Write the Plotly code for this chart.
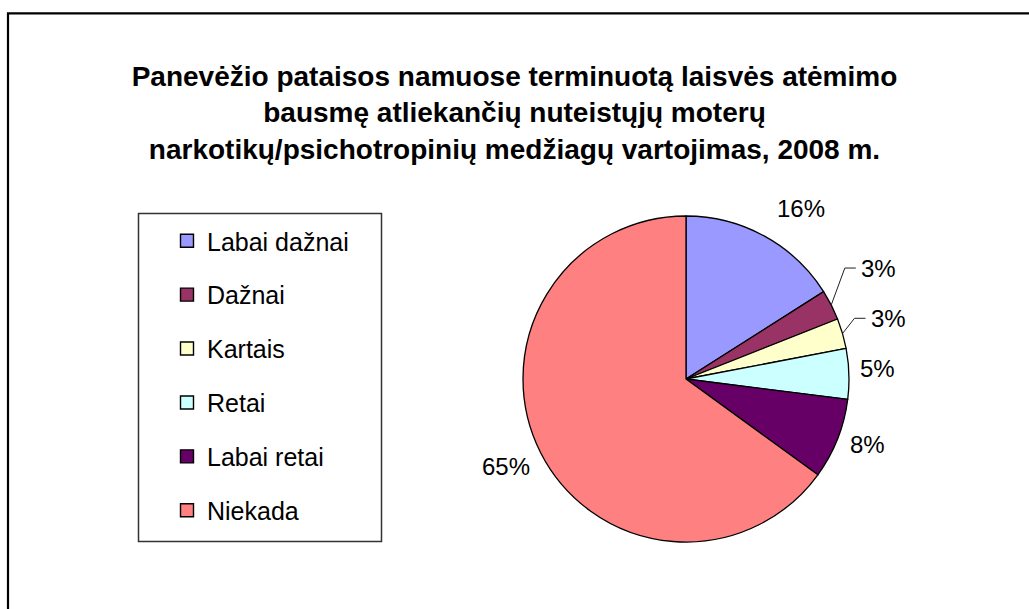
import math
import plotly.graph_objects as go

# --- data -------------------------------------------------------------
categories = ["Labai dažnai", "Dažnai", "Kartais", "Retai", "Labai retai", "Niekada"]
shares = [16, 3, 3, 5, 8, 65]          # percent of respondents
colors = ["#9999FF", "#993366", "#FFFFCC", "#CCFFFF", "#660066", "#FF8080"]
title_lines = [
    "Panevėžio pataisos namuose terminuotą laisvės atėmimo",
    "bausmę atliekančių nuteistųjų moterų",
    "narkotikų/psichotropinių medžiagų vartojimas, 2008 m.",
]

# --- layout constants (pixels) ----------------------------------------
W, H = 1029, 609
PIE_CX, PIE_CY, PIE_R = 686, 379, 163
FONT = "Liberation Sans, Arial, sans-serif"

# label placement: distance of the label's inner edge (in radii) and a small
# angular tweak from the slice's mid angle; some labels get a leader line
label_dist = [1.18, 1.26, 1.18, 1.06, 1.07, 1.085]
label_turn = [-1.3, -5.7, -2.2, -1.8, 0.3, -2.5]
label_leader = [False, True, True, False, False, False]


def px(x):
    return x / W


def py(y):
    return 1 - y / H


def polar(angle_deg, dist):
    a = math.radians(angle_deg)
    return PIE_CX + dist * math.sin(a), PIE_CY - dist * math.cos(a)


fig = go.Figure()

fig.add_trace(go.Pie(
    labels=categories,
    values=shares,
    sort=False,
    direction="clockwise",
    rotation=0,
    marker=dict(colors=colors, line=dict(color="black", width=1.3)),
    textinfo="none",
    hoverinfo="label+value",
    showlegend=False,
    domain=dict(
        x=[px(PIE_CX - PIE_R), px(PIE_CX + PIE_R)],
        y=[py(PIE_CY + PIE_R), py(PIE_CY - PIE_R)],
    ),
))

# legend entries, one group each so they can be spaced apart
for name, col in zip(categories, colors):
    fig.add_trace(go.Scatter(
        x=[None], y=[None], mode="markers", name=name, legendgroup=name,
        marker=dict(symbol="square", size=13, color=col,
                    line=dict(color="black", width=1.4)),
        hoverinfo="skip",
    ))

annotations = []
shapes = []

# percentage labels around the pie
total = sum(shares)
cum = 0.0
for v, d, t, lead in zip(shares, label_dist, label_turn, label_leader):
    mid = (cum + v / 2) / total * 360
    cum += v
    ax, ay = polar(mid + t, PIE_R * d)
    right_side = math.sin(math.radians(mid)) >= 0
    annotations.append(dict(
        x=px(ax), y=py(ay), xref="paper", yref="paper",
        text=f"{v}%", showarrow=False,
        xanchor="left" if right_side else "right", yanchor="middle",
        font=dict(family=FONT, size=24, color="black"),
    ))
    if lead:
        sx, sy = polar(mid, PIE_R)
        ex = ax - 14
        shapes.append(dict(
            type="path", xref="paper", yref="paper",
            path=f"M {px(sx)} {py(sy)} L {px(ex)} {py(ay)} L {px(ax - 3)} {py(ay)}",
            line=dict(color="#222222", width=1),
        ))

# frame around the legend
shapes.append(dict(
    type="rect", xref="paper", yref="paper",
    x0=px(138.5), x1=px(381.5), y0=py(541.5), y1=py(213.5),
    line=dict(color="#333333", width=1.5), fillcolor="rgba(0,0,0,0)",
))
# outer chart border
shapes.append(dict(
    type="rect", xref="paper", yref="paper",
    x0=px(8), x1=px(W + 20), y0=py(H + 20), y1=py(13.3),
    line=dict(color="black", width=2.2), fillcolor="rgba(0,0,0,0)",
))

fig.update_layout(
    width=W, height=H,
    margin=dict(l=0, r=0, t=0, b=0, pad=0),
    paper_bgcolor="white", plot_bgcolor="white",
    font=dict(family=FONT, color="black"),
    title=dict(
        text="<br>".join(title_lines),
        x=0.5, xanchor="center", xref="paper",
        y=py(86), yanchor="middle", yref="container",
        font=dict(family=FONT, size=28, color="black", weight="bold"),
    ),
    xaxis=dict(visible=False),
    yaxis=dict(visible=False),
    showlegend=True,
    legend=dict(
        x=px(167), y=py(218), xanchor="left", yanchor="top",
        traceorder="grouped", tracegroupgap=18.4,
        font=dict(family=FONT, size=25, color="black"),
        bgcolor="rgba(0,0,0,0)", borderwidth=0,
        itemclick=False, itemdoubleclick=False,
    ),
    annotations=annotations,
    shapes=shapes,
)

fig.write_html("out.html")
